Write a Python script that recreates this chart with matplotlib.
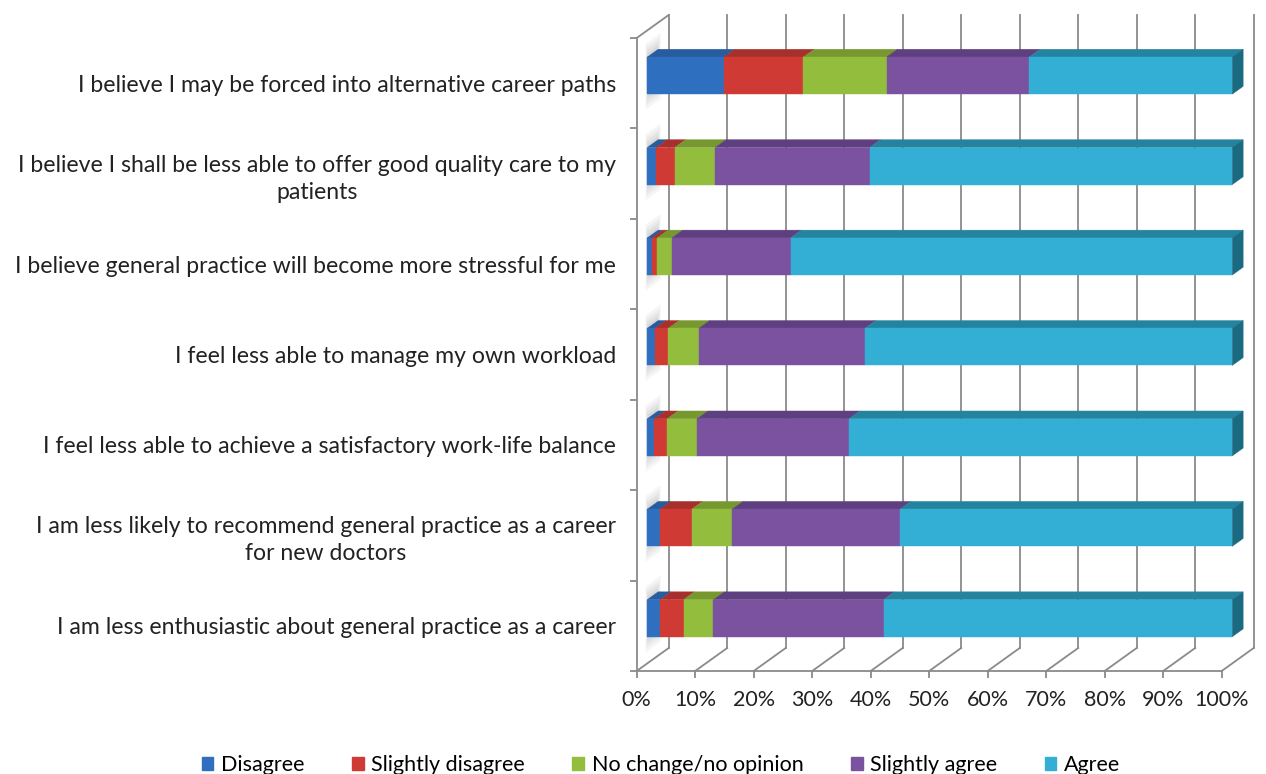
import matplotlib
matplotlib.use("Agg")
import matplotlib.pyplot as plt
from matplotlib.patches import Polygon, Patch
from matplotlib.ticker import FixedLocator

# Survey statements (top to bottom) and response shares in percent
statements = [
    "I believe I may be forced into alternative career paths",
    "I believe I shall be less able to offer good quality care to my\npatients",
    "I believe general practice will become more stressful for me",
    "I feel less able to manage my own workload",
    "I feel less able to achieve a satisfactory work-life balance",
    "I am less likely to recommend general practice as a career\nfor new doctors",
    "I am less enthusiastic about general practice as a career",
]
responses = ["Disagree", "Slightly disagree", "No change/no opinion",
             "Slightly agree", "Agree"]
disagree = [13.1, 1.5, 0.8, 1.3, 1.2, 2.2, 2.2]
slightly_disagree = [13.6, 3.2, 0.9, 2.3, 2.2, 5.4, 4.0]
no_change = [14.2, 6.9, 2.5, 5.2, 5.1, 6.9, 5.1]
slightly_agree = [24.4, 26.4, 20.3, 28.4, 26.0, 28.7, 29.1]
agree = [34.7, 62.0, 75.5, 62.8, 65.5, 56.8, 59.6]
x_ticks = list(range(0, 101, 10))
x_ticklabels = [f"{t}%" for t in x_ticks]

series = [disagree, slightly_disagree, no_change, slightly_agree, agree]
front_colors = ["#2f6fbf", "#cf3a35", "#93bd3c", "#7a52a0", "#33afd6"]
top_colors = ["#275c9e", "#a8302c", "#76982f", "#5e3f7f", "#24849f"]
side_color = "#1a6b82"
frame_color = "#8a8a8a"

FONT = "Lato"
W, H = 1266, 774
fig = plt.figure(figsize=(W / 100, H / 100), dpi=100)
fig.patch.set_facecolor("white")

# plot area = front face of the floor / left wall (pixel geometry of the frame)
ax_l, ax_r, ax_t, ax_b = 636.7, 1221.7, 38.0, 671.0
ax = fig.add_axes([ax_l / W, 1 - ax_b / H, (ax_r - ax_l) / W, (ax_b - ax_t) / H])
n = len(statements)
ax.set_xlim(0, 100)
ax.set_ylim(n - 0.5, -0.5)
ax.set_facecolor("none")

# oblique depth vector (32 px right, 23 px up) expressed in data units
dx = 32.0 / (ax_r - ax_l) * 100
dy = 23.0 / (ax_b - ax_t) * n

# back wall gridlines
for g in x_ticks:
    ax.plot([g + dx, g + dx], [n - 0.5 - dy, -0.5 - dy], color=frame_color,
            lw=1.3, clip_on=False, zorder=1)
    # floor edges running back from the front ticks
    ax.plot([g, g + dx], [n - 0.5, n - 0.5 - dy], color=frame_color,
            lw=1.3, clip_on=False, zorder=1)
# top edge of the left wall
ax.plot([0, dx], [-0.5, -0.5 - dy], color=frame_color, lw=1.3,
        clip_on=False, zorder=1)

# axes frame: left and bottom spines are the front edges
for s in ("top", "right"):
    ax.spines[s].set_visible(False)
for s in ("left", "bottom"):
    ax.spines[s].set_color(frame_color)
    ax.spines[s].set_linewidth(1.3)

ax.set_xticks(x_ticks)
ax.set_xticklabels(x_ticklabels, fontsize=15.5, family=FONT, color="#222222")
ax.tick_params(axis="x", length=5, width=1.3, color=frame_color, pad=9)
ax.set_yticks(range(n))
ax.set_yticklabels(statements, fontsize=16.6, family=FONT, color="#222222",
                   multialignment="center", linespacing=1.35)
ax.tick_params(axis="y", length=0, pad=15)
ax.yaxis.set_minor_locator(FixedLocator([i - 0.5 for i in range(n + 1)]))
ax.tick_params(axis="y", which="minor", length=5, width=1.3, color=frame_color)

# 3-D bars: front face at depth f1, back at f2
f1, f2 = 0.33, 0.67
h = 0.205
for i in range(n):
    # soft shadow on the left wall
    for k, a in enumerate([0.06, 0.06, 0.07, 0.08]):
        e = 0.16 - 0.04 * k
        fa, fb = 0.28 + 0.02 * k, 0.75 - 0.03 * k
        ax.add_patch(Polygon([(fa * dx, i - h - e - fa * dy),
                              (fb * dx, i - h - e - fb * dy),
                              (fb * dx, i + h + e - fb * dy),
                              (fa * dx, i + h + e - fa * dy)],
                             closed=True, facecolor="#606060", alpha=a,
                             edgecolor="none", clip_on=False, zorder=2))
    left = 0.0
    for vals, fc, tc in zip(series, front_colors, top_colors):
        v = vals[i]
        right = left + v
        # top face
        ax.add_patch(Polygon([(left + f1 * dx, i - h - f1 * dy),
                              (right + f1 * dx, i - h - f1 * dy),
                              (right + f2 * dx, i - h - f2 * dy),
                              (left + f2 * dx, i - h - f2 * dy)],
                             closed=True, facecolor=tc, edgecolor=tc, lw=0.3,
                             clip_on=False, zorder=3))
        left = right
    # front faces drawn through barh, shifted to the front depth
    starts = [sum(s[i] for s in series[:j]) for j in range(len(series))]
    for j, (vals, fc) in enumerate(zip(series, front_colors)):
        ax.barh(i - f1 * dy, vals[i], left=starts[j] + f1 * dx, height=2 * h,
                color=fc, edgecolor=fc, lw=0.3, clip_on=False, zorder=4)
    # right end face of the last segment
    end = left
    ax.add_patch(Polygon([(end + f1 * dx, i - h - f1 * dy),
                          (end + f2 * dx, i - h - f2 * dy),
                          (end + f2 * dx, i + h - f2 * dy),
                          (end + f1 * dx, i + h - f1 * dy)],
                         closed=True, facecolor=side_color, edgecolor=side_color,
                         lw=0.3, clip_on=False, zorder=4))

handles = [Patch(facecolor=c, edgecolor=c) for c in front_colors]
fig.legend(handles, responses, loc="center", bbox_to_anchor=(0.522, 0.012),
           ncol=5, frameon=False, prop={"family": FONT, "size": 15.5},
           handlelength=0.55, handleheight=0.55, handletextpad=0.35,
           columnspacing=2.2)

fig.savefig("out.png", dpi=100, facecolor="white")
